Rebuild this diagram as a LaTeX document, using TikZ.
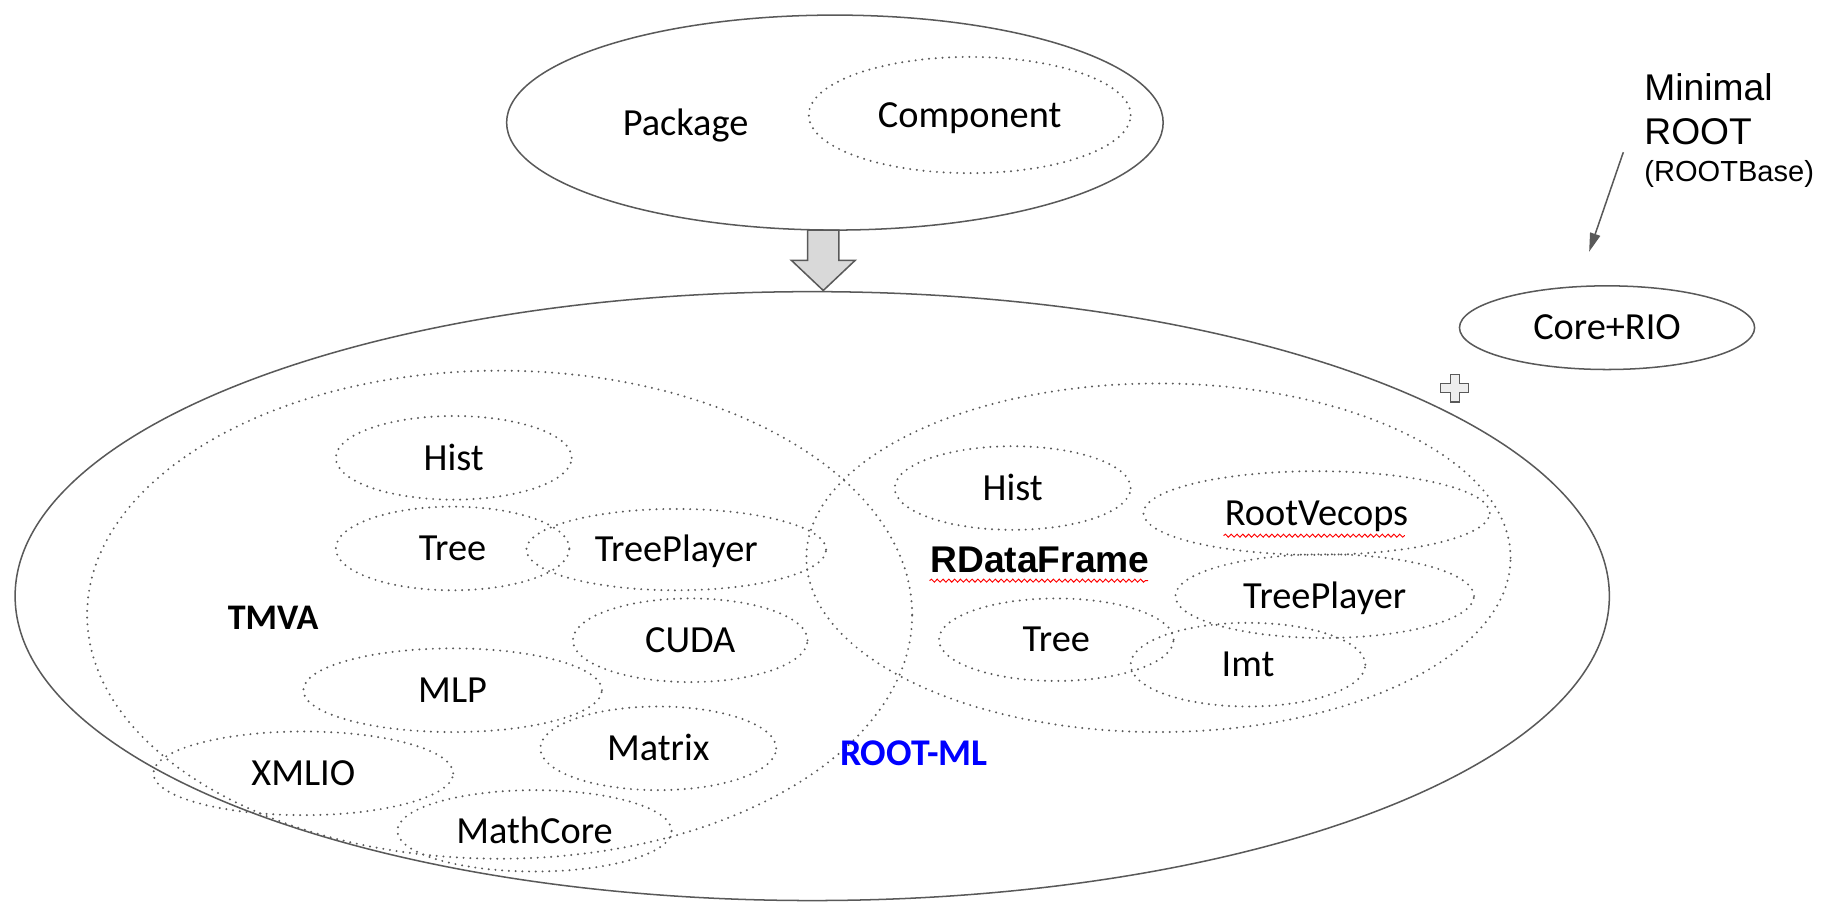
\documentclass[tikz,border=0pt]{standalone}
\usepackage{fontspec}
\setmainfont{Carlito}
\newfontfamily\arialfont{Liberation Sans}
\usetikzlibrary{shapes.geometric,arrows.meta,decorations.pathmorphing}
\definecolor{edgegray}{HTML}{595959}
\definecolor{dotgray}{HTML}{5A5A5A}
\definecolor{arrowfill}{HTML}{D9D9D9}
\definecolor{plusfill}{HTML}{EEEEEE}
\definecolor{mlblue}{RGB}{0,0,255}
\tikzset{
  solidell/.style={ellipse, draw=edgegray, line width=1.3pt, inner sep=0pt},
  dotell/.style={ellipse, draw=dotgray, line width=1.9pt, dash pattern=on 0pt off 5.8pt, line cap=round, inner sep=0pt},
  lbl/.style={font=\fontsize{33}{39}\selectfont, text height=21.2pt, text depth=0pt},
  boldlbl/.style={font=\fontsize{31}{37}\selectfont\bfseries, text height=20pt, text depth=0pt, inner sep=0pt},
  ariallbl/.style={font=\fontsize{32}{38}\selectfont\arialfont, text height=22.9pt, text depth=0pt, inner sep=0pt},
  wavy/.style={red, line width=0.8pt, decorate, decoration={snake, amplitude=1.3pt, segment length=5pt}},
}
\begin{document}
\begin{tikzpicture}[x=1pt, y=-1pt]
\fill[white] (0,0) rectangle (1568,783);
\useasboundingbox (0,0) rectangle (1568,783);

% legend package
\node[solidell, minimum width=565pt, minimum height=185pt] (pkg) at (718.5,105.5) {};
\node[lbl, inner sep=0pt] (pkgl) at (590,106) {Package};
\node[dotell, lbl, minimum width=277pt, minimum height=100pt] (comp) at (834.5,99) {Component};

% block arrow
\coordinate (ba) at (708.5,198);
\draw[edgegray, line width=1.3pt, fill=arrowfill]
  (ba) ++(-13.5,0) -- ++(27,0) -- ++(0,26) -- ++(14,0) -- ++(-27.5,26) -- ++(-27.5,-26) -- ++(14,0) -- cycle;

% big ellipse
\node[solidell, minimum width=1372pt, minimum height=524pt] (root) at (699,513) {};

% TMVA group
\node[dotell, minimum width=710pt, minimum height=420pt] (tmva) at (430,529) {};
\node[boldlbl] (tmval) at (235,532) {TMVA};
\node[dotell, lbl, minimum width=203pt, minimum height=72pt] (thist) at (390.5,394) {Hist};
\node[dotell, lbl, minimum width=201pt, minimum height=72pt] (ttree) at (389.5,472) {Tree};
\node[dotell, lbl, minimum width=258pt, minimum height=70pt] (ttp) at (582,473) {TreePlayer};
\node[dotell, lbl, minimum width=202pt, minimum height=72pt] (cuda) at (594,551) {CUDA};
\node[dotell, lbl, minimum width=257pt, minimum height=72pt] (mlp) at (389.5,594) {MLP};
\node[dotell, lbl, minimum width=203pt, minimum height=72pt] (matrix) at (566.5,644) {Matrix};
\node[dotell, lbl, minimum width=258pt, minimum height=72pt] (xmlio) at (261,665.5) {XMLIO};
\node[dotell, lbl, minimum width=236pt, minimum height=70pt] (mathcore) at (460,715) {MathCore};

% RDataFrame group
\node[dotell, minimum width=606pt, minimum height=300pt] (rdf) at (997,480) {};
\node[ariallbl, font=\fontsize{32}{38}\selectfont\arialfont\bfseries] (rdfl) at (895,481.6) {RDataFrame};
\draw[wavy] (800,499.7) -- (988,499.7);
\node[dotell, lbl, minimum width=203pt, minimum height=72pt] (rhist) at (871.5,420) {Hist};
\node[dotell, lbl, minimum width=298pt, minimum height=72pt] (rvec) at (1133,441.5) {RootVecops};
\draw[wavy] (1053,461) -- (1209,461);
\node[dotell, lbl, minimum width=257pt, minimum height=72pt] (rtp) at (1140,513) {TreePlayer};
\node[dotell, lbl, minimum width=202pt, minimum height=71pt] (rtree) at (909,550.5) {Tree};
\node[dotell, lbl, minimum width=202pt, minimum height=72pt] (imt) at (1074,572) {Imt};

% ROOT-ML label
\node[boldlbl, font=\fontsize{32.5}{38}\selectfont\bfseries, text height=21pt, text=mlblue] (rootml) at (786.5,648) {ROOT-ML};

% Core+RIO
\node[solidell, lbl, minimum width=254pt, minimum height=72pt] (core) at (1383,282) {Core+RIO};

% plus sign
\draw[edgegray, line width=1pt, fill=plusfill, shift={(1252,334)}]
  (-4,-12) -- (4,-12) -- (4,-4) -- (12,-4) -- (12,4) -- (4,4) -- (4,12) -- (-4,12) -- (-4,4) -- (-12,4) -- (-12,-4) -- (-4,-4) -- cycle;

% Minimal ROOT label
\node[ariallbl, anchor=west] (min1) at (1415,75) {Minimal};
\node[ariallbl, anchor=west] (min2) at (1415,113) {ROOT};
\node[ariallbl, anchor=west, font=\fontsize{25}{30}\selectfont\arialfont, text height=17.9pt] (min3) at (1415,147) {(ROOTBase)};
\coordinate (mstart) at (1397,131);
\coordinate (mend) at (1367.6,216.6);
\draw[edgegray, line width=1.3pt, -{Triangle[length=16pt,width=9pt]}] (mstart) -- (mend);
\end{tikzpicture}
\end{document}
